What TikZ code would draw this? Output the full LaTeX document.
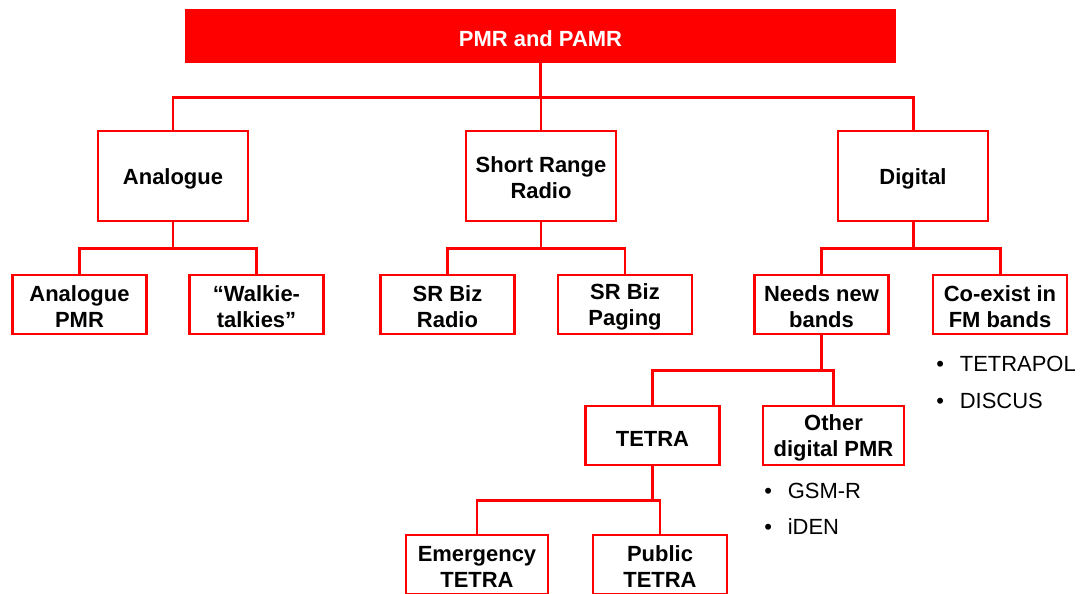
\documentclass[tikz,border=0pt]{standalone}
\usepackage{fontspec}
\setmainfont{Liberation Sans}
\newcommand\lift{\rule{0pt}{11.2pt}}
\tikzset{
  box/.style={draw=red, line width=1.3pt, fill=white, inner sep=0pt, align=center,
    font=\fontsize{12.5}{14.8}\selectfont\bfseries, minimum width=2.68cm, minimum height=1.18cm},
  oneline/.style={box, execute at begin node={\rule{0pt}{12pt}}},
  big/.style={minimum width=3cm, minimum height=1.8cm},
  link/.style={draw=red, line width=1.7pt},
  item/.style={anchor=west, inner sep=0pt, font=\fontsize{12.5}{14.8}\selectfont}
}
\begin{document}
\begin{tikzpicture}[x=0.02cm, y=-0.02cm]
  \path[use as bounding box, clip] (0,0) rectangle (1086,593);

  \node[fill=red, text=white, inner sep=0pt, minimum width=14.22cm, minimum height=1.08cm,
    font=\fontsize{12.5}{14.8}\selectfont\bfseries] (pmr) at (540.5,36) {\rule{0pt}{12pt}PMR and PAMR};

  \node[oneline, big] (ana) at (173,176) {Analogue};
  \node[box, big] (srr) at (541,176) {\lift Short Range\\Radio};
  \node[oneline, big] (dig) at (913,176) {Digital};

  \node[box] (apmr) at (79.5,304.5) {\lift Analogue\\PMR};
  \node[box] (walk) at (256.5,304.5) {\lift “Walkie-\\talkies”};
  \node[box] (srbr) at (447.5,304.5) {\lift SR Biz\\Radio};
  \node[box] (srbp) at (625,304.5) {\lift SR Biz\\Paging};
  \node[box] (need) at (821.5,304.5) {\lift Needs new\\bands};
  \node[box] (coex) at (1000,304.5) {\lift Co-exist in\\FM bands};

  \node[oneline] (tetra) at (652.5,435.5) {TETRA};
  \node[box, minimum width=2.82cm] (other) at (833.5,435.5) {\lift Other\\digital PMR};

  \node[box, minimum width=2.84cm] (emer) at (477,564.5) {\lift Emergency\\TETRA};
  \node[box] (pub) at (660,564.5) {\lift Public\\TETRA};

  \coordinate (j0) at (540.5,97);
  \coordinate (j1) at (173,248);
  \coordinate (j2) at (541,248);
  \coordinate (j3) at (913,248);
  \coordinate (j4) at (821.5,370);
  \coordinate (j5) at (652.5,500);

  \draw[link] (pmr) -- (j0);
  \draw[link] (j0) -| (ana);
  \draw[link] (j0) -| (srr);
  \draw[link] (j0) -| (dig);

  \draw[link] (ana) -- (j1);
  \draw[link] (j1) -| (apmr);
  \draw[link] (j1) -| (walk);
  \draw[link] (srr) -- (j2);
  \draw[link] (j2) -| (srbr);
  \draw[link] (j2) -| (srbp);
  \draw[link] (dig) -- (j3);
  \draw[link] (j3) -| (need);
  \draw[link] (j3) -| (coex);

  \draw[link] (need) -- (j4);
  \draw[link] (j4) -| (tetra);
  \draw[link] (j4) -| (other);

  \draw[link] (tetra) -- (j5);
  \draw[link] (j5) -| (emer);
  \draw[link] (j5) -| (pub);

  \node[item] (tpol) at (936,364) {\textbullet\hspace{9pt}TETRAPOL};
  \node[item] (disc) at (936,401) {\textbullet\hspace{9pt}DISCUS};
  \node[item] (gsmr) at (764,491) {\textbullet\hspace{9pt}GSM-R};
  \node[item] (iden) at (764,527) {\textbullet\hspace{9pt}iDEN};
\end{tikzpicture}
\end{document}
